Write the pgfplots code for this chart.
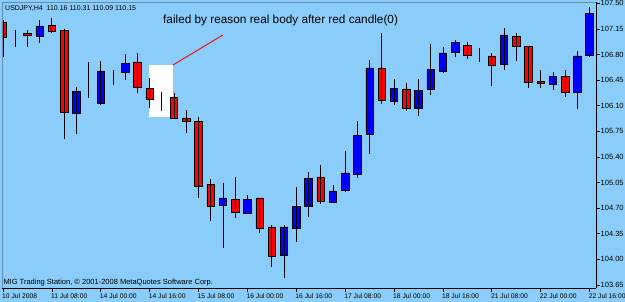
\documentclass[border=0pt]{standalone}
\usepackage{pgfplots}
\usepackage{pgfplotstable}
\pgfplotsset{compat=1.18}
\usepackage{fontspec}
\setmainfont{Liberation Sans}
\definecolor{bg}{RGB}{138,205,250}
\definecolor{frame}{RGB}{100,140,175}

\pgfplotstableread{
x o h l c
0 107.244 107.272 106.766 107.039
1 107.067 107.135 106.903 107.067
2 107.094 107.135 106.903 107.067
3 107.053 107.272 106.957 107.190
4 107.203 107.299 107.094 107.121
5 107.135 107.149 105.645 106.014
6 106.001 106.356 105.714 106.301
7 106.288 106.698 106.206 106.288
8 106.137 106.711 106.110 106.575
9 106.561 106.588 106.383 106.561
10 106.561 106.807 106.452 106.684
11 106.698 106.821 106.274 106.356
12 106.342 106.479 106.069 106.192
13 106.192 106.288 106.028 106.192
14 106.219 106.274 105.919 105.932
15 105.932 106.042 105.727 105.891
16 105.891 105.946 104.839 105.003
17 105.030 105.099 104.525 104.729
18 104.743 105.044 104.156 104.839
19 104.825 105.126 104.566 104.647
20 104.634 104.880 104.630 104.825
21 104.839 104.845 104.361 104.429
22 104.443 104.470 103.896 104.046
23 104.060 104.470 103.746 104.443
24 104.429 104.989 104.238 104.729
25 104.729 105.194 104.579 105.112
26 105.126 105.290 104.757 104.798
27 104.784 105.017 104.770 104.935
28 104.948 105.481 104.921 105.181
29 105.167 105.891 105.112 105.700
30 105.714 106.725 105.440 106.616
31 106.616 107.094 106.124 106.178
32 106.165 106.465 106.110 106.342
33 106.329 106.411 106.028 106.069
34 106.069 106.465 105.960 106.315
35 106.329 106.944 106.247 106.602
36 106.575 106.903 106.547 106.821
37 106.834 106.998 106.766 106.971
38 106.930 106.971 106.739 106.793
39 106.807 106.889 106.698 106.807
40 106.780 106.821 106.370 106.657
41 106.670 107.162 106.588 107.067
42 107.053 107.094 106.711 106.916
43 106.916 106.916 106.342 106.424
44 106.438 106.588 106.342 106.411
45 106.397 106.561 106.315 106.506
46 106.506 106.588 106.219 106.288
47 106.288 106.848 106.055 106.780
48 106.793 107.449 106.766 107.367
}\data

\begin{document}
\begin{tikzpicture}
\path[use as bounding box, fill=bg] (0,0) rectangle (625pt,302pt);
\fill[white] (149pt,185pt) rectangle (173pt,237pt);
\begin{axis}[
  at={(2pt,13.5pt)}, anchor=south west,
  scale only axis, width=594pt, height=286.5pt,
  xmin=-0.082, xmax=48.527, ymin=103.602, ymax=107.518,
  ybar stacked, bar width=7.5pt,
  axis x line*=bottom, axis y line*=right,
  axis line style={black, line width=0.8pt},
  tick align=outside, major tick length=3.5pt,
  tick style={black, line width=0.7pt},
  xtick={0,4,...,48},
  xticklabels={10 Jul 2008,11 Jul 08:00,14 Jul 00:00,14 Jul 16:00,15 Jul 08:00,16 Jul 00:00,16 Jul 16:00,17 Jul 08:00,18 Jul 00:00,18 Jul 16:00,21 Jul 08:00,22 Jul 00:00,22 Jul 16:00},
  ytick={103.65,104,104.35,104.7,105.05,105.4,105.75,106.1,106.45,106.8,107.15,107.5},
  yticklabels={103.65,104.00,104.35,104.70,105.05,105.40,105.75,106.10,106.45,106.80,107.15,107.50},
  xticklabel style={font=\fontsize{6.75}{8}\selectfont, anchor=north west, inner sep=0pt, xshift=-1pt, yshift=-1pt},
  yticklabel style={font=\fontsize{7.5}{8}\selectfont, anchor=west, inner sep=0pt, xshift=1pt},
]
\draw[red, line width=0.9pt] (axis cs:13.91,106.657) -- (axis cs:18.0,107.067);
\draw[frame, line width=0.8pt] (rel axis cs:0,0) -- (rel axis cs:0,1) -- (rel axis cs:1,1);
\addplot[draw=none, fill=none,
  error bars/.cd, y dir=both, y explicit, error mark=none,
  error bar style={black, line width=0.8pt}]
  table[x=x, y expr={min(\thisrow{o},\thisrow{c})},
        y error plus expr={\thisrow{h}-min(\thisrow{o},\thisrow{c})},
        y error minus expr={min(\thisrow{o},\thisrow{c})-\thisrow{l}}] {\data};
\addplot[fill=red, draw=black, line width=0.7pt]
  table[x=x, y expr={max(\thisrow{o}-\thisrow{c},0)}] {\data};
\addplot[fill=blue, draw=black, line width=0.7pt]
  table[x=x, y expr={max(\thisrow{c}-\thisrow{o},0)}] {\data};
\end{axis}
\node[anchor=base west, inner sep=0pt, font=\fontsize{7}{8}\selectfont] at (5pt,291pt) {USDJPY,H4\ \ 110.16 110.31 110.09 110.15};
\node[anchor=base west, inner sep=0pt, font=\fontsize{11.8}{13}\selectfont] at (163pt,278pt) {failed by reason real body after red candle(0)};
\node[anchor=base west, inner sep=0pt, font=\fontsize{7.5}{8}\selectfont] at (3.3pt,17pt) {MIG Trading Station, \textcopyright{} 2001-2008 MetaQuotes Software Corp.};
\end{tikzpicture}
\end{document}
